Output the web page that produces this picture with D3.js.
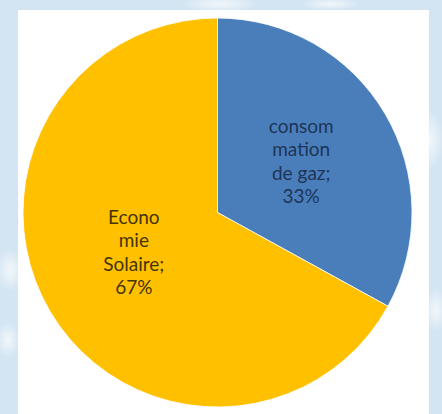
<!DOCTYPE html>
<html>
<head>
<meta charset="utf-8">
<script src="https://cdn.jsdelivr.net/npm/d3@7"></script>
<style>
  body { margin: 0; background: #d4e6f4; }
</style>
</head>
<body>
<script>
'use strict';

// chart size
let width = 442,
  height = 414

// data
const categories = ["consommation de gaz", "Economie Solaire"];
const values = [33, 67];
// wrapped label lines as shown in the chart
const labelLines = [
  ["consom", "mation", "de gaz;", "33%"],
  ["Econo", "mie", "Solaire;", "67%"]
];
const colors = ["#4a7ebb", "#ffc000"];
const textColors = ["#1d3557", "#45330a"];
// small vertical nudges for the label blocks
const labelNudge = [5, -3];

let svg = d3.select("body")
  .append("svg")
  .attr("width", width)
  .attr("height", height);

// patterned light blue background
let defs = svg.append("defs");
let grad = defs.append("radialGradient").attr("id", "glow");
grad.append("stop").attr("offset", "0%").attr("stop-color", "#ffffff").attr("stop-opacity", 0.7);
grad.append("stop").attr("offset", "100%").attr("stop-color", "#ffffff").attr("stop-opacity", 0);

svg.append("rect")
  .attr("width", width)
  .attr("height", height)
  .attr("fill", "#d3e5f3");

[[10, 270, 14, 22], [8, 340, 12, 18], [430, 140, 14, 30], [436, 310, 12, 22], [220, 4, 40, 8], [330, 4, 30, 6]]
  .forEach(g => {
    svg.append("ellipse")
      .attr("cx", g[0]).attr("cy", g[1])
      .attr("rx", g[2]).attr("ry", g[3])
      .attr("fill", "url(#glow)");
  });

// white chart area
svg.append("rect")
  .attr("x", 18)
  .attr("y", 10)
  .attr("width", 411)
  .attr("height", 404)
  .attr("fill", "#ffffff");

// pie
let cx = 217.5,
  cy = 212.5,
  radius = 194.5

let pie = d3.pie().sort(null).value(d => d);
let arc = d3.arc().innerRadius(0).outerRadius(radius);

let g = svg.append("g")
  .attr("transform", "translate(" + cx + "," + cy + ")");

let slices = g.selectAll("g.slice")
  .data(pie(values))
  .enter()
  .append("g")
  .attr("class", "slice");

slices.append("path")
  .attr("d", arc)
  .attr("fill", (d, i) => colors[i])
  .attr("stroke", "#ffffff")
  .attr("stroke-width", 0.8);

// labels
slices.each(function (d, i) {
  let c = arc.centroid(d);
  let lines = labelLines[i];
  let lh = 23.5;
  let text = d3.select(this).append("text")
    .attr("text-anchor", "middle")
    .attr("font-family", "Lato, 'Open Sans', sans-serif")
    .attr("font-size", 19)
    .attr("fill", textColors[i]);
  lines.forEach((l, k) => {
    text.append("tspan")
      .attr("x", c[0])
      .attr("y", c[1] + (k - (lines.length - 1) / 2) * lh + labelNudge[i])
      .text(l);
  });
});
</script>
</body>
</html>
